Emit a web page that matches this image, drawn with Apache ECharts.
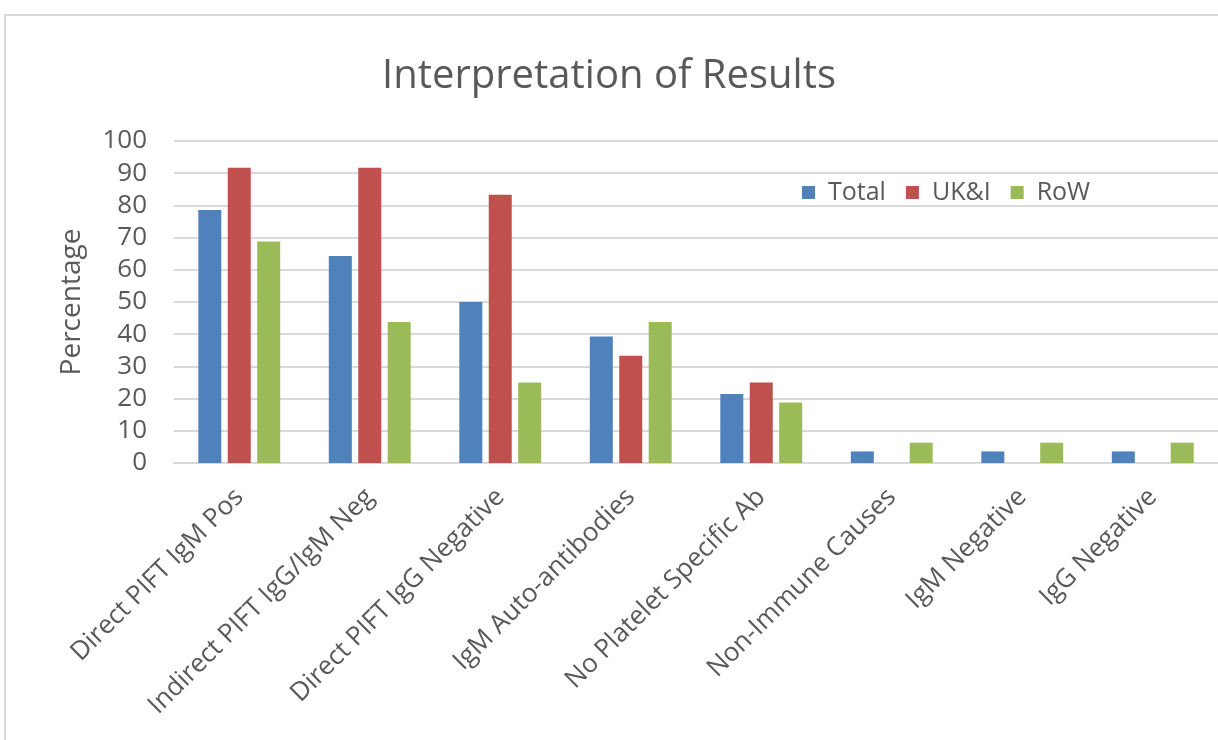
<!DOCTYPE html>
<html>
<head>
<meta charset="utf-8">
<script src="https://cdn.jsdelivr.net/npm/echarts@6/dist/echarts.min.js"></script>
<style>
  html, body { margin: 0; padding: 0; background: #fff; overflow: hidden; }
  #frame { position: absolute; left: 4px; top: 14px; width: 1214px; height: 726px;
           border-top: 2px solid #d9d9d9; border-left: 2px solid #d9d9d9; box-sizing: border-box; }
  #chart { position: absolute; left: 0; top: 0; width: 1218px; height: 740px; }
</style>
</head>
<body>
<div id="frame"></div>
<div id="chart"></div>
<script>
const categories = [
  'Direct PIFT IgM Pos',
  'Indirect PIFT IgG/IgM Neg',
  'Direct PIFT IgG Negative',
  'IgM Auto-antibodies',
  'No Platelet Specific Ab',
  'Non-Immune Causes',
  'IgM Negative',
  'IgG Negative'
]
const total = [78.6, 64.3, 50.0, 39.3, 21.4, 3.6, 3.6, 3.6]
const ukAndI = [91.7, 91.7, 83.3, 33.3, 25.0, 0, 0, 0]
const row = [68.8, 43.8, 25.0, 43.8, 18.8, 6.3, 6.3, 6.3]

const textColor = '#595959'
const fontFamily = 'Open Sans'

const chart = echarts.init(document.getElementById('chart'))

chart.setOption({
  animation: false,
  title: {
    text: 'Interpretation of Results',
    left: 'center',
    top: 52,
    textStyle: { fontSize: 40, fontWeight: 'normal', color: textColor, fontFamily }
  },
  legend: {
    data: ['Total', 'UK&I', 'RoW'],
    left: 797,
    top: 175,
    itemWidth: 13,
    itemHeight: 13,
    itemGap: 20,
    icon: 'rect',
    textStyle: { fontSize: 25, color: textColor, fontFamily, padding: [0, 0, 0, 8] }
  },
  // plot runs past the right edge, as in the reference crop
  grid: {
    left: 174,
    width: 1056,
    top: 141,
    bottom: 277
  },
  xAxis: {
    type: 'category',
    data: categories,
    axisLine: { lineStyle: { color: '#d9d9d9', width: 2 } },
    axisTick: { show: false },
    axisLabel: {
      interval: 0,
      rotate: 45,
      fontSize: 26,
      color: textColor,
      fontFamily,
      margin: 30
    }
  },
  yAxis: {
    type: 'value',
    min: 0,
    max: 100,
    interval: 10,
    name: 'Percentage',
    nameLocation: 'middle',
    nameGap: 88,
    nameTextStyle: { fontSize: 28, color: textColor, fontFamily },
    axisLine: { show: false },
    axisTick: { show: false },
    axisLabel: { fontSize: 26, color: textColor, fontFamily, margin: 27 },
    splitLine: { lineStyle: { color: '#d9d9d9', width: 2 } }
  },
  series: [
    { name: 'Total', type: 'bar', data: total, barWidth: 23, barGap: '28%',
      itemStyle: { color: '#4F81BD' } },
    { name: 'UK&I', type: 'bar', data: ukAndI, barWidth: 23, barGap: '28%',
      itemStyle: { color: '#C0504D' } },
    { name: 'RoW', type: 'bar', data: row, barWidth: 23, barGap: '28%',
      itemStyle: { color: '#9BBB59' } }
  ]
})
</script>
</body>
</html>
